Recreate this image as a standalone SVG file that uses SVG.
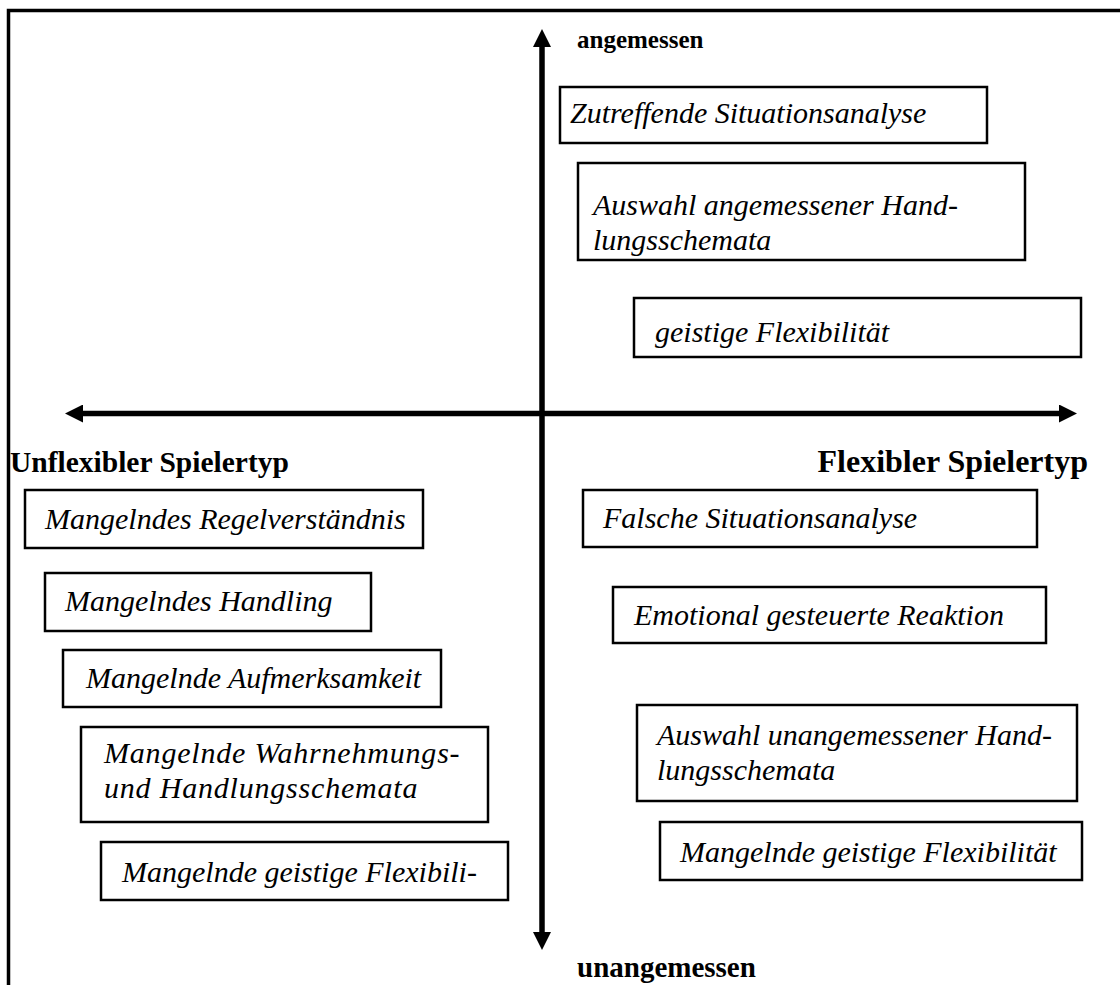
<svg xmlns="http://www.w3.org/2000/svg" width="1120" height="985" viewBox="0 0 1120 985">
  <style>
    .box { fill: #ffffff; stroke: #000000; stroke-width: 2.5; }
    .item { font-family: "Liberation Serif", "Times New Roman", serif; font-style: italic; font-size: 30px; fill: #000000; }
    .head { font-family: "Liberation Serif", "Times New Roman", serif; font-weight: bold; fill: #000000; }
    .axis { stroke: #000000; stroke-width: 5.5; fill: none; }
  </style>
  <defs>
    <marker id="tip" viewBox="0 0 18 18" refX="0" refY="9" markerWidth="18" markerHeight="18" markerUnits="userSpaceOnUse" orient="auto-start-reverse">
      <path d="M0,0 L18,9 L0,18 Z" fill="#000000"/>
    </marker>
  </defs>
  <rect width="1120" height="985" fill="#ffffff"/>

  <!-- outer frame (open to the right and bottom) -->
  <path d="M8.5,985 V10.5 H1120" fill="none" stroke="#000000" stroke-width="3.5"/>

  <!-- axes -->
  <g id="connectors">
    <line class="axis" x1="542" y1="932" x2="542" y2="47" marker-start="url(#tip)" marker-end="url(#tip)"/>
    <line class="axis" x1="83" y1="413.5" x2="1059" y2="413.5" marker-start="url(#tip)" marker-end="url(#tip)"/>
  </g>

  <!-- axis labels -->
  <g id="label-top"><text class="head" x="577" y="48" font-size="25">angemessen</text></g>
  <g id="label-bottom"><text class="head" x="577" y="977" font-size="29">unangemessen</text></g>
  <g id="label-left"><text class="head" x="10" y="472" font-size="29.5">Unflexibler Spielertyp</text></g>
  <g id="label-right"><text class="head" x="1088" y="472" font-size="32" text-anchor="end">Flexibler Spielertyp</text></g>

  <!-- upper right quadrant -->
  <g id="zutreffende-situationsanalyse">
    <rect class="box" x="560" y="87" width="427" height="56"/>
    <text class="item" x="570" y="123">Zutreffende Situationsanalyse</text>
  </g>
  <g id="auswahl-angemessener">
    <rect class="box" x="578" y="163" width="447" height="97"/>
    <text class="item" x="593" y="215">Auswahl angemessener Hand-</text>
    <text class="item" x="593" y="250">lungsschemata</text>
  </g>
  <g id="geistige-flexibilitaet">
    <rect class="box" x="634" y="298" width="447" height="59"/>
    <text class="item" x="655" y="342">geistige Flexibilität</text>
  </g>

  <!-- lower left quadrant -->
  <g id="mangelndes-regelverstaendnis">
    <rect class="box" x="25" y="490" width="398" height="58"/>
    <text class="item" x="45" y="529">Mangelndes Regelverständnis</text>
  </g>
  <g id="mangelndes-handling">
    <rect class="box" x="45" y="573" width="326" height="58"/>
    <text class="item" x="65" y="611">Mangelndes Handling</text>
  </g>
  <g id="mangelnde-aufmerksamkeit">
    <rect class="box" x="63" y="650" width="378" height="57"/>
    <text class="item" x="86" y="688">Mangelnde Aufmerksamkeit</text>
  </g>
  <g id="mangelnde-schemata">
    <rect class="box" x="81" y="727" width="407" height="95"/>
    <text class="item" x="104" y="763" letter-spacing="0.8">Mangelnde Wahrnehmungs-</text>
    <text class="item" x="104" y="798" letter-spacing="0.8">und Handlungsschemata</text>
  </g>
  <g id="mangelnde-flexibilitaet-links">
    <rect class="box" x="101" y="842" width="407" height="58"/>
    <text class="item" x="122" y="882">Mangelnde geistige Flexibili-</text>
  </g>

  <!-- lower right quadrant -->
  <g id="falsche-situationsanalyse">
    <rect class="box" x="583" y="490" width="454" height="57"/>
    <text class="item" x="603" y="528">Falsche Situationsanalyse</text>
  </g>
  <g id="emotional-gesteuerte-reaktion">
    <rect class="box" x="613" y="587" width="433" height="56"/>
    <text class="item" x="634" y="625">Emotional gesteuerte Reaktion</text>
  </g>
  <g id="auswahl-unangemessener">
    <rect class="box" x="637" y="705" width="440" height="96"/>
    <text class="item" x="657" y="745">Auswahl unangemessener Hand-</text>
    <text class="item" x="657" y="780">lungsschemata</text>
  </g>
  <g id="mangelnde-flexibilitaet-rechts">
    <rect class="box" x="660" y="822" width="422" height="58"/>
    <text class="item" x="680" y="862">Mangelnde geistige Flexibilität</text>
  </g>
</svg>
